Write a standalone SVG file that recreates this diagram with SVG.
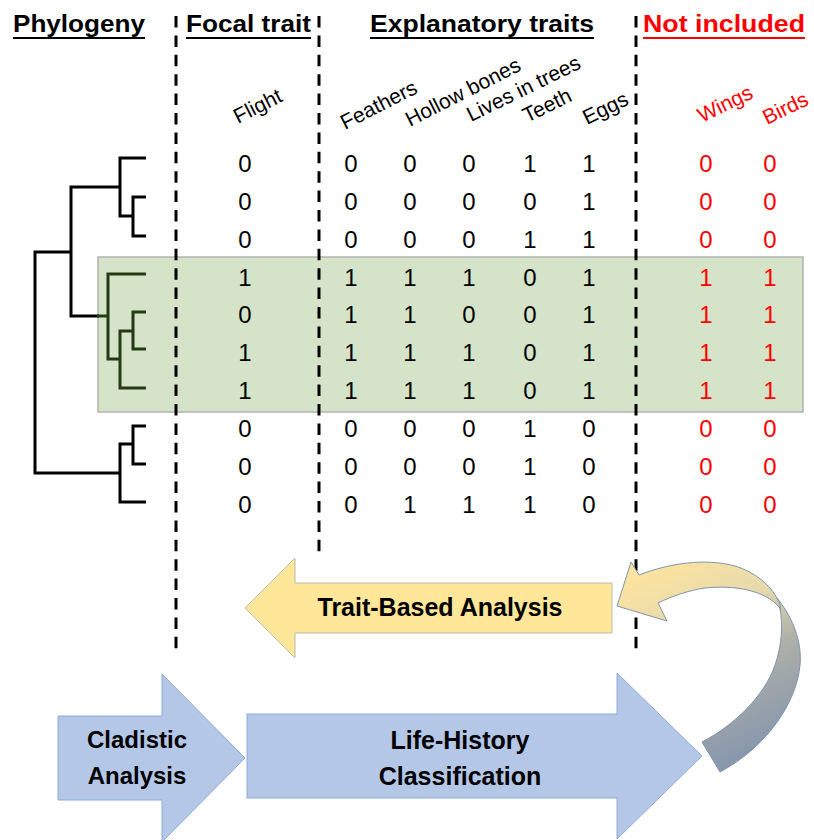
<svg xmlns="http://www.w3.org/2000/svg" width="814" height="840" viewBox="0 0 814 840">
  <defs>
    <linearGradient id="loopGrad" gradientUnits="userSpaceOnUse" x1="650" y1="570" x2="745" y2="770">
      <stop offset="0" stop-color="#fce4a0"/>
      <stop offset="0.3" stop-color="#e6d9ad"/>
      <stop offset="0.55" stop-color="#aeb0a8"/>
      <stop offset="1" stop-color="#8193ad"/>
    </linearGradient>
  </defs>
  <style>
    .hdr { font-family: "Liberation Sans", Arial, sans-serif; font-weight: bold; font-size: 23px; }
    .col { font-family: "Liberation Sans", Arial, sans-serif; font-size: 21px; }
    .num { font-family: "Liberation Sans", Arial, sans-serif; font-size: 24px; text-anchor: middle; }
    .red { fill: #ff0000; }
    .ul { stroke-width: 2; }
    .dash { stroke: #000; stroke-width: 3; stroke-dasharray: 11.5 7.9; fill: none; }
    .branch { stroke: #000; stroke-width: 3; fill: none; }
    .clade { stroke: #233a14; }
    .blue { fill: #b4c7e7; stroke: #8faadc; stroke-width: 1; }
    .yellow { fill: #ffe699; stroke: #b9bcae; stroke-width: 1; }
    .lbl { font-family: "Liberation Sans", Arial, sans-serif; font-weight: bold; font-size: 25px; text-anchor: middle; }
  </style>

  <rect width="814" height="840" fill="#ffffff"/>

  <!-- band behind the bird clade -->
  <g id="bird-clade">
    <rect x="98" y="257" width="705" height="155" fill="#d5e4c9" stroke="#b2b4b0" stroke-width="1.5"/>
  </g>

  <!-- column headers -->
  <g id="headers">
    <text class="hdr" x="13" y="32" textLength="132" lengthAdjust="spacingAndGlyphs">Phylogeny</text>
    <line class="ul" x1="13" y1="38" x2="145" y2="38" stroke="#000"/>
    <text class="hdr" x="186" y="32" textLength="125" lengthAdjust="spacingAndGlyphs">Focal trait</text>
    <line class="ul" x1="186" y1="38" x2="311" y2="38" stroke="#000"/>
    <text class="hdr" x="370" y="32" textLength="224" lengthAdjust="spacingAndGlyphs">Explanatory traits</text>
    <line class="ul" x1="370" y1="38" x2="594" y2="38" stroke="#000"/>
    <text class="hdr red" x="643" y="32" textLength="162" lengthAdjust="spacingAndGlyphs">Not included</text>
    <line class="ul" x1="643" y1="38" x2="805" y2="38" stroke="#ff0000"/>
  </g>

  <!-- section separators -->
  <g id="separators">
    <line class="dash" x1="176" y1="16" x2="176" y2="652"/>
    <line class="dash" x1="319" y1="16" x2="319" y2="552"/>
    <line class="dash" x1="636" y1="16" x2="636" y2="652"/>
  </g>

  <!-- slanted trait names -->
  <g id="trait-names">
    <text class="col" transform="translate(238,124) rotate(-27)">Flight</text>
    <text class="col" transform="translate(345,130) rotate(-27)">Feathers</text>
    <text class="col" transform="translate(410,127) rotate(-27)">Hollow bones</text>
    <text class="col" transform="translate(471,122) rotate(-26)">Lives in trees</text>
    <text class="col" transform="translate(527,123) rotate(-26)">Teeth</text>
    <text class="col" transform="translate(587,125) rotate(-26)">Eggs</text>
    <text class="col red" transform="translate(702,123) rotate(-26)">Wings</text>
    <text class="col red" transform="translate(767,125) rotate(-26)">Birds</text>
  </g>

  <!-- phylogeny -->
  <g id="tree">
    <path class="branch" d="M146,158 H120 V216 H133"/>
    <path class="branch" d="M146,197 H133 V236 H146"/>
    <path class="branch" d="M120,187 H71 V316 H99"/>
    <path class="branch clade" d="M97,316 H108"/>
    <path class="branch clade" d="M146,274 H108 V359 H120"/>
    <path class="branch clade" d="M146,312 H133 V349 H146"/>
    <path class="branch clade" d="M133,331 H120 V388 H146"/>
    <path class="branch" d="M71,252 H35 V473 H120"/>
    <path class="branch" d="M146,426 H133 V464 H146"/>
    <path class="branch" d="M133,444 H120 V502 H146"/>
  </g>

  <!-- trait matrix -->
  <g id="matrix" class="num">
    <text x="245" y="172">0</text><text x="351" y="172">0</text><text x="410" y="172">0</text><text x="469" y="172">0</text><text x="530" y="172">1</text><text x="589" y="172">1</text><text class="red" x="706" y="172">0</text><text class="red" x="770" y="172">0</text>
    <text x="245" y="210">0</text><text x="351" y="210">0</text><text x="410" y="210">0</text><text x="469" y="210">0</text><text x="530" y="210">0</text><text x="589" y="210">1</text><text class="red" x="706" y="210">0</text><text class="red" x="770" y="210">0</text>
    <text x="245" y="248">0</text><text x="351" y="248">0</text><text x="410" y="248">0</text><text x="469" y="248">0</text><text x="530" y="248">1</text><text x="589" y="248">1</text><text class="red" x="706" y="248">0</text><text class="red" x="770" y="248">0</text>
    <text x="245" y="286">1</text><text x="351" y="286">1</text><text x="410" y="286">1</text><text x="469" y="286">1</text><text x="530" y="286">0</text><text x="589" y="286">1</text><text class="red" x="706" y="286">1</text><text class="red" x="770" y="286">1</text>
    <text x="245" y="323">0</text><text x="351" y="323">1</text><text x="410" y="323">1</text><text x="469" y="323">0</text><text x="530" y="323">0</text><text x="589" y="323">1</text><text class="red" x="706" y="323">1</text><text class="red" x="770" y="323">1</text>
    <text x="245" y="361">1</text><text x="351" y="361">1</text><text x="410" y="361">1</text><text x="469" y="361">1</text><text x="530" y="361">0</text><text x="589" y="361">1</text><text class="red" x="706" y="361">1</text><text class="red" x="770" y="361">1</text>
    <text x="245" y="399">1</text><text x="351" y="399">1</text><text x="410" y="399">1</text><text x="469" y="399">1</text><text x="530" y="399">0</text><text x="589" y="399">1</text><text class="red" x="706" y="399">1</text><text class="red" x="770" y="399">1</text>
    <text x="245" y="437">0</text><text x="351" y="437">0</text><text x="410" y="437">0</text><text x="469" y="437">0</text><text x="530" y="437">1</text><text x="589" y="437">0</text><text class="red" x="706" y="437">0</text><text class="red" x="770" y="437">0</text>
    <text x="245" y="475">0</text><text x="351" y="475">0</text><text x="410" y="475">0</text><text x="469" y="475">0</text><text x="530" y="475">1</text><text x="589" y="475">0</text><text class="red" x="706" y="475">0</text><text class="red" x="770" y="475">0</text>
    <text x="245" y="513">0</text><text x="351" y="513">0</text><text x="410" y="513">1</text><text x="469" y="513">1</text><text x="530" y="513">1</text><text x="589" y="513">0</text><text class="red" x="706" y="513">0</text><text class="red" x="770" y="513">0</text>
  </g>

  <!-- process arrows -->
  <g id="trait-based-analysis">
    <polygon class="yellow" points="612,583 295,583 295,558 245,608 295,658 295,633 612,633"/>
    <text class="lbl" x="440" y="616">Trait-Based Analysis</text>
  </g>

  <g id="cladistic-analysis">
    <polygon class="blue" points="58,716 162,716 162,674 245,758 162,842 162,800 58,800"/>
    <text class="lbl" x="137" y="748" style="font-size:24px">Cladistic</text>
    <text class="lbl" x="137" y="784" style="font-size:24px">Analysis</text>
  </g>

  <g id="life-history-classification">
    <polygon class="blue" points="247,714 617,714 617,673 702,756 617,839 617,798 247,798"/>
    <text class="lbl" x="460" y="749">Life-History</text>
    <text class="lbl" x="460" y="785">Classification</text>
  </g>

  <!-- feedback loop from classification back to trait analysis -->
  <g id="connectors">
    <path d="M617,606 L631,562 L639,575 C670,563 705,558 735,566 C755,572 770,585 777,598 C795,620 802,645 800,665 C797,700 770,745 720,772 L702,742 C735,725 765,695 775,665 C782,645 783,625 780,608 C765,590 735,585 705,588 C690,590 672,596 658,603 L667,621 Z" fill="url(#loopGrad)" stroke="#8094b0" stroke-width="1"/>
    <path d="M777,598 C780,604 781,606 780,610" fill="none" stroke="#8094b0" stroke-width="1"/>
  </g>
</svg>
